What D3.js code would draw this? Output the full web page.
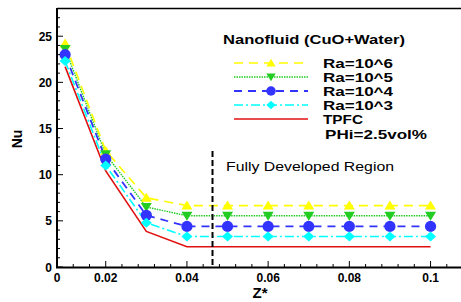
<!DOCTYPE html>
<html><head><meta charset="utf-8">
<script src="https://cdn.jsdelivr.net/npm/d3@7"></script>
<style>body{margin:0;background:#fff}svg{display:block}text{font-family:Arial,"Liberation Sans",sans-serif}</style>
</head><body><svg id="c" width="461" height="302"></svg>
<script>
const zValues = [0.01,0.02,0.03,0.04,0.05,0.06,0.07,0.08,0.09,0.1];
const ra6 = [24.2,12.6,7.5,6.65,6.65,6.65,6.65,6.65,6.65,6.65];
const ra5 = [23.6,12.2,6.5,5.55,5.55,5.55,5.55,5.55,5.55,5.55];
const ra4 = [23.0,11.7,5.6,4.4,4.4,4.4,4.4,4.4,4.4,4.4];
const ra3 = [22.3,11.0,4.8,3.3,3.3,3.3,3.3,3.3,3.3,3.3];
const tpfc = [21.7,10.4,3.85,2.2,2.2,2.2,2.2,2.2,2.2,2.2];
const xTickValues = [0.008,0.02,0.04,0.06,0.08,0.1];
const xTickLabels = ["0","0.02","0.04","0.06","0.08","0.1"];
const yTickValues = [0,5,10,15,20,25];
const fullyDevelopedZ = 0.0463;
const legendTitle = "Nanofluid (CuO+Water)";
const seriesNames = ["Ra=10^6","Ra=10^5","Ra=10^4","Ra=10^3","TPFC"];
const noteText = "PHi=2.5vol%";

const svg = d3.select("#c");
const x = d3.scaleLinear().domain([0.008,0.1075]).range([57,461]);
const y = d3.scaleLinear().domain([0,28]).range([267,8.5]);

const series = [
  {name:seriesNames[0], v:ra6, color:"#ffff00", dash:"9,6", w:1.6, marker:"up"},
  {name:seriesNames[1], v:ra5, color:"#22cc22", dash:"1.5,1", w:1.4, marker:"down"},
  {name:seriesNames[2], v:ra4, color:"#3333ff", dash:"8,6", w:1.8, marker:"circle"},
  {name:seriesNames[3], v:ra3, color:"#00ffff", dash:"9,3,2,3", w:1.6, marker:"diamond"},
  {name:seriesNames[4], v:tpfc, color:"#e01010", dash:null, w:1.6, marker:null}
];

function markerPath(type, k){
  const p = d3.path();
  if(type==="up"){ p.moveTo(0,-5*k); p.lineTo(5.5*k,4*k); p.lineTo(-5.5*k,4*k); p.closePath(); }
  else if(type==="down"){ p.moveTo(0,5*k); p.lineTo(5.5*k,-4*k); p.lineTo(-5.5*k,-4*k); p.closePath(); }
  else if(type==="circle"){ p.ellipse ? 0 : 0; p.moveTo(5.6*k,0); p.arc(0,0,5.6*k,0,2*Math.PI); }
  else if(type==="diamond"){ p.moveTo(0,-5*k); p.lineTo(5.5*k,0); p.lineTo(0,5*k); p.lineTo(-5.5*k,0); p.closePath(); }
  return p.toString();
}

svg.append("line").attr("x1",57).attr("x2",461).attr("y1",8.5).attr("y2",8.5).attr("stroke","#000").attr("stroke-width",1.5);

const line = d3.line().x((d,i)=>x(zValues[i])).y(d=>y(d));
series.slice().reverse().forEach(s=>{
  svg.append("path").attr("d",line(s.v)).attr("fill","none").attr("stroke",s.color)
    .attr("stroke-width",s.w).attr("stroke-dasharray",s.dash);
});
series.forEach(s=>{
  if(!s.marker) return;
  svg.append("g").selectAll("path").data(s.v).join("path")
    .attr("d",markerPath(s.marker,1))
    .attr("transform",(d,i)=>`translate(${x(zValues[i])},${y(d)})`)
    .attr("fill",s.color);
});

svg.append("line").attr("x1",x(fullyDevelopedZ)).attr("x2",x(fullyDevelopedZ))
  .attr("y1",151).attr("y2",267).attr("stroke","#000").attr("stroke-width",2).attr("stroke-dasharray","6,3");
svg.append("text").attr("x",226).attr("y",171).attr("font-size",12).attr("textLength",168).attr("lengthAdjust","spacingAndGlyphs").text("Fully Developed Region");

const yAxis = svg.append("g");
yAxis.append("line").attr("x1",57).attr("x2",57).attr("y1",8).attr("y2",268).attr("stroke","#000").attr("stroke-width",2);
d3.range(0,28.01,1).forEach(v=>{
  const maj = v%5===0;
  yAxis.append("line").attr("x1",57).attr("x2",57+(maj?6:3)).attr("y1",y(v)).attr("y2",y(v)).attr("stroke","#000").attr("stroke-width",1);
});
yAxis.selectAll("text").data(yTickValues).join("text").attr("x",52).attr("y",d=>y(d)+4.5)
  .attr("text-anchor","end").attr("font-size",12).attr("font-weight","bold").text(d=>d);

const xAxis = svg.append("g");
xAxis.append("line").attr("x1",56).attr("x2",461).attr("y1",267.5).attr("y2",267.5).attr("stroke","#000").attr("stroke-width",2);
d3.range(0.008,0.1076,0.004).forEach(v=>{
  const r = Math.round(v*1000);
  const maj = r%20===0;
  xAxis.append("line").attr("x1",x(v)).attr("x2",x(v)).attr("y1",267).attr("y2",267-(maj?6:3)).attr("stroke","#000").attr("stroke-width",1);
});
xAxis.selectAll("text").data(xTickValues).join("text").attr("x",d=>x(d)).attr("y",282)
  .attr("text-anchor","middle").attr("font-size",12).attr("font-weight","bold").text((d,i)=>xTickLabels[i]);

svg.append("text").attr("transform","translate(22,139) rotate(-90)").attr("text-anchor","middle")
  .attr("font-size",14).attr("font-weight","bold").text("Nu");
svg.append("text").attr("x",260).attr("y",298).attr("text-anchor","middle")
  .attr("font-size",15).attr("font-weight","bold").text("Z*");

svg.append("text").attr("x",223).attr("y",44).attr("font-size",13).attr("font-weight","bold")
  .attr("textLength",182).attr("lengthAdjust","spacingAndGlyphs").text(legendTitle);
const legY = [63,77,91,105,119];
series.forEach((s,i)=>{
  const g = svg.append("g");
  g.append("line").attr("x1",234).attr("x2",308).attr("y1",legY[i]).attr("y2",legY[i])
    .attr("stroke",s.color).attr("stroke-width",s.w).attr("stroke-dasharray",s.dash);
  if(s.marker) g.append("path").attr("d",markerPath(s.marker,0.85))
    .attr("transform",`translate(271,${legY[i]})`).attr("fill",s.color);
  g.append("text").attr("x",323).attr("y",legY[i]+5).attr("font-size",13).attr("font-weight","bold")
    .attr("textLength",i<4?70:40).attr("lengthAdjust","spacingAndGlyphs").text(s.name);
});
svg.append("text").attr("x",325).attr("y",139).attr("font-size",13).attr("font-weight","bold")
  .attr("textLength",102).attr("lengthAdjust","spacingAndGlyphs").text(noteText);
</script></body></html>
